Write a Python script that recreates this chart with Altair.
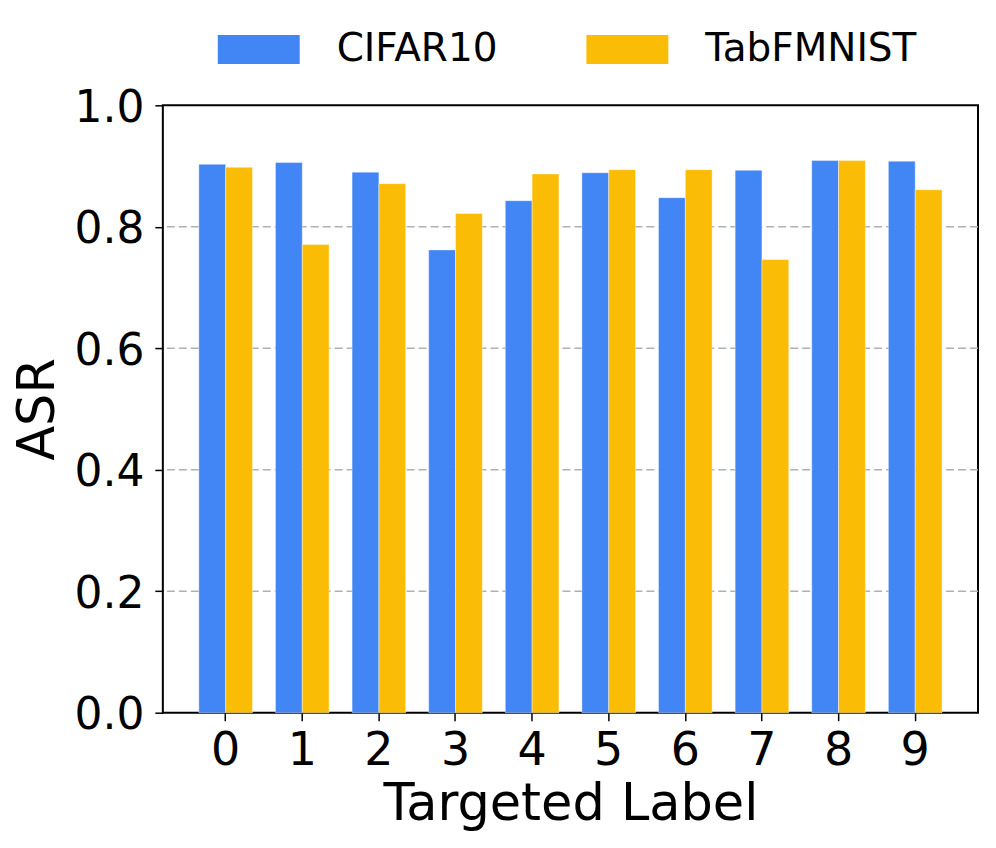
import altair as alt
import pandas as pd

labels = [0, 1, 2, 3, 4, 5, 6, 7, 8, 9]
datasets = ["CIFAR10", "TabFMNIST"]
cifar10 = [0.903, 0.906, 0.890, 0.762, 0.843, 0.889, 0.848, 0.893, 0.909, 0.908]
tabfmnist = [0.898, 0.771, 0.871, 0.822, 0.887, 0.894, 0.894, 0.746, 0.909, 0.861]
colors = ["#4285F4", "#FBBC05"]
y_ticks = [0.0, 0.2, 0.4, 0.6, 0.8, 1.0]
grid_values = [0.2, 0.4, 0.6, 0.8]

rows = []
for lab, a, b in zip(labels, cifar10, tabfmnist):
    rows.append({"label": lab, "dataset": datasets[0], "asr": a})
    rows.append({"label": lab, "dataset": datasets[1], "asr": b})
df = pd.DataFrame(rows)
grid_df = pd.DataFrame({"g": grid_values})

FONT = "DejaVu Sans"

y_scale = alt.Scale(domain=[0, 1], nice=False, zero=True)
y_axis = alt.Axis(
    values=y_ticks,
    format=".1f",
    labelFontSize=44,
    labelPadding=11,
    labelOffset=3,
    tickSize=8,
    tickWidth=1.5,
    tickColor="black",
    domain=False,
    titleFontSize=51,
    titleFontWeight="normal",
    titleBaseline="middle",
    titleX=-124,
    titleY=304,
    grid=False,
)

grid = (
    alt.Chart(grid_df)
    .mark_rule(color="#b0b0b0", strokeWidth=1.5, strokeDash=[8, 4])
    .encode(y=alt.Y("g:Q", title="ASR", scale=y_scale, axis=y_axis))
)

bars = (
    alt.Chart(df)
    .mark_bar(stroke="white", strokeOpacity=0.4, strokeWidth=1)
    .encode(
        x=alt.X(
            "label:O",
            title="Targeted Label",
            scale=alt.Scale(paddingInner=0.3, paddingOuter=0.47),
            axis=alt.Axis(
                labelAngle=0,
                labelFontSize=46,
                labelBaseline="alphabetic",
                labelPadding=44,
                tickSize=8,
                tickWidth=1.5,
                tickColor="black",
                domain=False,
                titleFontSize=51,
                titleFontWeight="normal",
                titleBaseline="alphabetic",
                titleY=107,
                grid=False,
            ),
        ),
        xOffset=alt.XOffset("dataset:N", sort=datasets, scale=alt.Scale(paddingInner=0, paddingOuter=0)),
        y=alt.Y("asr:Q", title="ASR", scale=y_scale, axis=y_axis),
        color=alt.Color(
            "dataset:N",
            sort=datasets,
            scale=alt.Scale(domain=datasets, range=colors),
            legend=alt.Legend(
                title=None,
                orient="none",
                direction="horizontal",
                legendX=55,
                legendY=-97,
                symbolType="M-1,-0.354H1V0.354H-1Z",
                symbolSize=6724,
                symbolStrokeWidth=0,
                symbolOpacity=1,
                labelFontSize=39,
                labelOffset=37,
                labelLimit=0,
                columnPadding=89,
                padding=0,
            ),
        ),
    )
)

chart = (
    alt.layer(grid, bars)
    .properties(
        width=816,
        height=608,
        padding={"left": 155, "top": 97, "right": 10, "bottom": 120},
        autosize=alt.AutoSizeParams(type="none"),
    )
    .configure(font=FONT)
    .configure_axis(labelColor="black", titleColor="black", labelFont=FONT, titleFont=FONT)
    .configure_legend(labelColor="black", labelFont=FONT)
    .configure_view(stroke="black", strokeWidth=2)
)

chart.save("out.html", embed_options={"renderer": "svg", "actions": False})
